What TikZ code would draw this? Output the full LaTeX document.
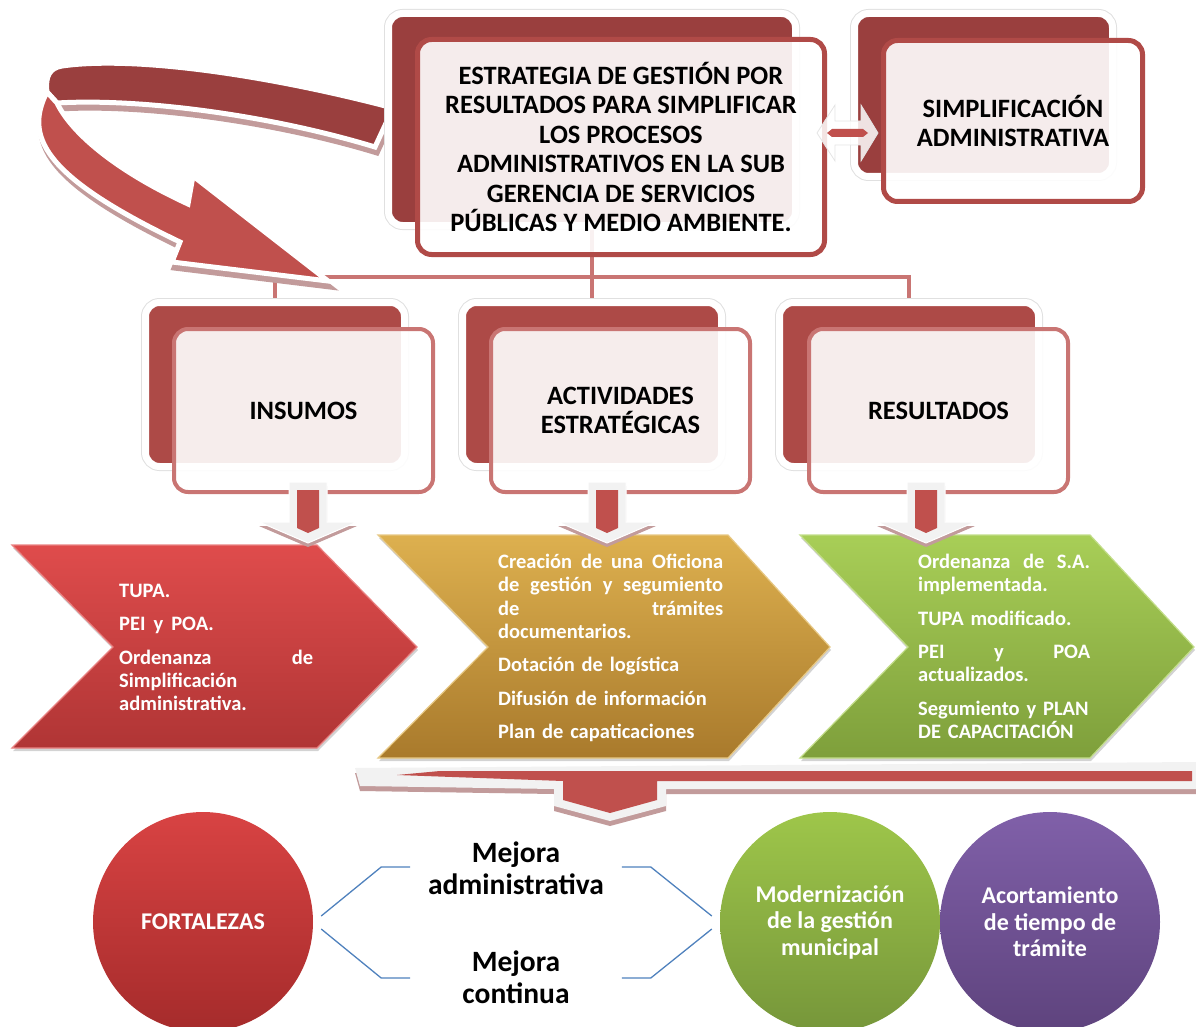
\documentclass[tikz,border=0pt]{standalone}
\usepackage{fontspec}
\setmainfont{Carlito}
\usetikzlibrary{shadows,backgrounds}

\definecolor{darkred}{HTML}{9A3F3E}
\definecolor{midred}{HTML}{AD4A47}
\definecolor{ribred}{HTML}{C0504D}
\definecolor{edgered}{HTML}{B04A47}
\definecolor{softred}{HTML}{C97573}
\definecolor{shadowrose}{HTML}{C29B9B}
\definecolor{linkblue}{HTML}{4F81BD}
\definecolor{chevredA}{HTML}{DF4C4C}
\definecolor{chevredB}{HTML}{B03535}
\definecolor{chevgoldA}{HTML}{DDB04F}
\definecolor{chevgoldB}{HTML}{A97A2C}
\definecolor{chevgreenA}{HTML}{A8CE57}
\definecolor{chevgreenB}{HTML}{7E9F3B}
\definecolor{ballredA}{HTML}{D84343}
\definecolor{ballredB}{HTML}{A52B2B}
\definecolor{ballgreenA}{HTML}{9EC64A}
\definecolor{ballgreenB}{HTML}{76963A}
\definecolor{ballpurpleA}{HTML}{8060A9}
\definecolor{ballpurpleB}{HTML}{5E437D}

\newcommand{\spreadln}[2]{\leavevmode\hbox to #1{#2}}

\tikzset{
  backbox/.style={rectangle, rounded corners=14pt, inner sep=0pt, fill=#1,
    draw=white, line width=7pt, preaction={draw=black!12, line width=9pt}},
  frontbox/.style={rectangle, rounded corners=14pt, inner sep=0pt, fill=white,
    fill opacity=.9, text opacity=1, draw=#1, align=center,
    font=\bfseries\fontsize{26.5}{29.5}\selectfont},
  tree/.style={draw=softred, line width=4pt},
  ribbon/.style={fill=#1, draw=white, line width=5pt},
  ribshade/.style={fill=shadowrose, draw=shadowrose, line width=5pt},
  chev/.style 2 args={top color=#1, bottom color=#2, draw=#1!70!white, line width=1.2pt,
    drop shadow={opacity=.35, shadow xshift=1pt, shadow yshift=-3pt}},
  chevtext/.style={anchor=north west, inner sep=0pt, align=left, text=white,
    font=\bfseries\fontsize{20.5}{23.3}\selectfont},
  downarr/.style={fill=black!5, draw=white, line width=1pt},
  ball/.style 2 args={circle, minimum size=220pt, inner sep=0pt, top color=#1,
    bottom color=#2, text=white, align=center,
    font=\bfseries\fontsize{24}{26.5}\selectfont},
  plain/.style={align=center, inner sep=0pt, font=\bfseries\fontsize{29.5}{32}\selectfont},
  bracket/.style={draw=linkblue, line width=1.3pt}
}

\begin{document}
\begin{tikzpicture}[x=1pt,y=-1pt]

\useasboundingbox (0,0) rectangle (1196,1027);

% curved ribbon arrow
\begin{scope}[shift={(2,6)}]
\path[ribshade] (393,108) .. controls (280,78) and (140,55) .. (62,66) .. controls (50,68) and (45,76) .. (47,92) -- (57,103) .. controls (140,98) and (270,115) .. (375,147) -- cycle;
\path[ribshade] (47,92) .. controls (25,135) and (40,175) .. (180,242) -- (172,262) -- (328,281) -- (193,176) -- (188,204) .. controls (110,168) and (70,130) .. (57,103) -- cycle;
\end{scope}
\path[ribbon=darkred] (393,108) .. controls (280,78) and (140,55) .. (62,66) .. controls (50,68) and (45,76) .. (47,92) -- (57,103) .. controls (140,98) and (270,115) .. (375,147) -- cycle;
\path[ribbon=ribred] (47,92) .. controls (25,135) and (40,175) .. (180,242) -- (172,262) -- (328,281) -- (193,176) -- (188,204) .. controls (110,168) and (70,130) .. (57,103) -- cycle;

% top boxes
\node[backbox=darkred, minimum width=407pt, minimum height=212pt] (estrB) at (592,119.5) {};
\node[frontbox=edgered, line width=5pt, minimum width=407pt, minimum height=215pt] (estrF) at (621,147)
  {ESTRATEGIA DE GESTIÓN POR\\RESULTADOS PARA SIMPLIFICAR\\LOS PROCESOS\\ADMINISTRATIVOS EN LA SUB\\GERENCIA DE SERVICIOS\\PÚBLICAS Y MEDIO AMBIENTE.};

\node[backbox=darkred, minimum width=258pt, minimum height=163pt] (simpB) at (983.5,95) {};
\node[frontbox=edgered, line width=5pt, minimum width=259pt, minimum height=161pt] (simpF) at (1013,121)
  {SIMPLIFICACIÓN\\ADMINISTRATIVA};

% second row
\node[backbox=midred, minimum width=259pt, minimum height=164pt] (insB) at (275,384.5) {};
\node[frontbox=softred, line width=4pt, minimum width=259pt, minimum height=163pt] (insF) at (303.5,410.5) {INSUMOS};

\node[backbox=midred, minimum width=259pt, minimum height=164pt] (actB) at (592,384.5) {};
\node[frontbox=softred, line width=4pt, minimum width=259pt, minimum height=163pt] (actF) at (620.5,410.5) {ACTIVIDADES\\ESTRATÉGICAS};

\node[backbox=midred, minimum width=259pt, minimum height=164pt] (resB) at (909,384.5) {};
\node[frontbox=softred, line width=4pt, minimum width=259pt, minimum height=163pt] (resF) at (938.5,410.5) {RESULTADOS};

% tree under the strategy box
\coordinate (bus) at (592,277);
\begin{scope}[on background layer]
\draw[tree] (estrB.south) -- (bus);
\draw[tree] (insB.north) |- (bus) -| (resB.north);
\draw[tree] (bus) -- (actB.north);
\end{scope}

% double arrow
\path[fill=white, fill opacity=.85, draw=black!10, line width=.8pt] (817,133) -- (835,105) -- (835,121) -- (861,121) -- (861,105) -- (878,133) -- (861,161) -- (861,145) -- (835,145) -- (835,161) -- cycle;
\fill[ribred] (827,133) -- (832,129) -- (863,129) -- (868,133) -- (863,137) -- (832,137) -- cycle;

% chevrons
\path[chev={chevredA}{chevredB}] (12,545) -- (317,545) -- (417,647) -- (317,748) -- (12,748) -- (113,647) -- cycle;
\path[chev={chevgoldA}{chevgoldB}] (378,535) -- (728,535) -- (830,647) -- (728,758) -- (378,758) -- (488,647) -- cycle;
\path[chev={chevgreenA}{chevgreenB}] (800,535) -- (1090,535) -- (1194,647) -- (1090,758) -- (800,758) -- (908,647) -- cycle;

\node[chevtext, text width=205pt] (insTxt) at (119,581)
  {\strut TUPA.\\[10pt]PEI\hspace{8pt}y\hspace{8pt}POA.\\[10pt]\spreadln{194pt}{Ordenanza\hfill de}\\Simplificación\\administrativa.};
\node[chevtext, text width=240pt] (actTxt) at (498,552)
  {\strut\spreadln{225pt}{Creación\hfill de\hfill una\hfill Oficiona}\\\spreadln{225pt}{de\hfill gestión\hfill y\hfill segumiento}\\\spreadln{225pt}{de\hfill trámites}\\documentarios.\\[10pt]Dotación de logística\\[10pt]Difusión de información\\[10pt]Plan de capaticaciones};
\node[chevtext, text width=185pt] (resTxt) at (918,552)
  {\strut\spreadln{172pt}{Ordenanza\hfill de\hfill S.A.}\\implementada.\\[10pt]TUPA modificado.\\[10pt]\spreadln{172pt}{PEI\hfill y\hfill POA}\\actualizados.\\[10pt]Segumiento y PLAN\\DE CAPACITACIÓN};

% small down arrows
\fill[shadowrose] (289,486) -- ++(38,0) -- ++(0,40) -- ++(30,0) -- ++(-49,21) -- ++(-49,-21) -- ++(30,0) -- cycle;
\path[downarr] (289,482) -- ++(38,0) -- ++(0,40) -- ++(30,0) -- ++(-49,21) -- ++(-49,-21) -- ++(30,0) -- cycle;
\fill[ribred] (297,490) -- ++(22,0) -- ++(0,38) -- ++(-11,5) -- ++(-11,-5) -- cycle;

\fill[shadowrose] (588,486) -- ++(38,0) -- ++(0,40) -- ++(30,0) -- ++(-49,21) -- ++(-49,-21) -- ++(30,0) -- cycle;
\path[downarr] (588,482) -- ++(38,0) -- ++(0,40) -- ++(30,0) -- ++(-49,21) -- ++(-49,-21) -- ++(30,0) -- cycle;
\fill[ribred] (596,490) -- ++(22,0) -- ++(0,38) -- ++(-11,5) -- ++(-11,-5) -- cycle;

\fill[shadowrose] (907,486) -- ++(38,0) -- ++(0,40) -- ++(30,0) -- ++(-49,21) -- ++(-49,-21) -- ++(30,0) -- cycle;
\path[downarr] (907,482) -- ++(38,0) -- ++(0,40) -- ++(30,0) -- ++(-49,21) -- ++(-49,-21) -- ++(30,0) -- cycle;
\fill[ribred] (915,490) -- ++(22,0) -- ++(0,38) -- ++(-11,5) -- ++(-11,-5) -- cycle;

% wide arrow under the chevrons
\fill[shadowrose] (355,773) -- (1196,767) -- (1196,794) -- (666,794) -- (666,811) -- (610,826) -- (554,811) -- (554,794) -- (360,791) -- cycle;
\fill[black!5] (355,768) -- (1196,762) -- (1196,789) -- (666,789) -- (666,806) -- (610,821) -- (554,806) -- (554,789) -- (360,786) -- cycle;
\fill[ribred] (397,775) -- (440,771) -- (1192,771) -- (1192,781) -- (657,781) -- (657,800) -- (610,813) -- (563,800) -- (563,781) -- cycle;

% circles
\node[ball={ballredA}{ballredB}] (fort) at (203,922) {FORTALEZAS};
\node[ball={ballgreenA}{ballgreenB}] (modg) at (830,922) {Modernización\\de la gestión\\municipal};
\node[ball={ballpurpleA}{ballpurpleB}] (acort) at (1050,922) {Acortamiento\\de tiempo de\\trámite};

\node[plain] (mAdm) at (516,868) {Mejora\\administrativa};
\node[plain] (mCont) at (516,977) {Mejora\\continua};

\draw[bracket] ([shift={(8,-6)}]fort.east) -- ++(60,-49) -- ++(29,0);
\draw[bracket] ([shift={(8,7)}]fort.east) -- ++(60,49) -- ++(29,0);
\draw[bracket] ([shift={(-8,-6)}]modg.west) -- ++(-61,-49) -- ++(-29,0);
\draw[bracket] ([shift={(-8,7)}]modg.west) -- ++(-61,49) -- ++(-29,0);

\end{tikzpicture}
\end{document}
